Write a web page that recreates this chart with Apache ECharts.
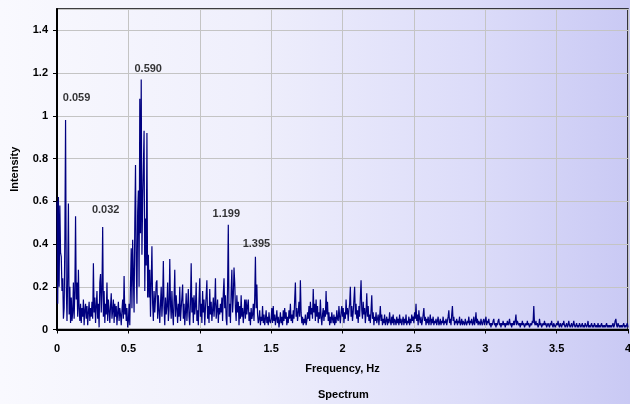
<!DOCTYPE html>
<html>
<head>
<meta charset="utf-8">
<script src="https://cdn.jsdelivr.net/npm/echarts@6/dist/echarts.min.js"></script>
<style>
  html, body { margin: 0; padding: 0; overflow: hidden; }
  #chart {
    width: 630px; height: 404px;
    background: linear-gradient(to right, #f9f9fe 0%, #efeffc 40%, #dcdcf9 75%, #c9c9f4 100%);
  }
</style>
</head>
<body>
<div id="chart"></div>
<script>
// Spectrum amplitudes, one value every 0.005 Hz, split into 0.5 Hz bands
const freqStep = 0.005;

const band0 = [
  0.60,0.12,0.62,0.20,0.58,0.36,0.34,0.18,0.24,0.05,
  0.10,0.42,0.98,0.20,0.04,0.25,0.59,0.07,0.20,0.03,
  0.15,0.04,0.08,0.22,0.05,0.18,0.53,0.14,0.22,0.06,
  0.28,0.10,0.04,0.12,0.03,0.10,0.06,0.14,0.02,0.09,
  0.12,0.05,0.11,0.02,0.08,0.13,0.04,0.10,0.06,0.13,
  0.05,0.31,0.08,0.15,0.03,0.11,0.18,0.05,0.12,0.01,
  0.22,0.26,0.08,0.19,0.48,0.06,0.18,0.03,0.12,0.07,
  0.22,0.04,0.14,0.09,0.03,0.11,0.17,0.05,0.09,0.14,
  0.03,0.12,0.06,0.11,0.02,0.08,0.13,0.04,0.10,0.07,
  0.02,0.09,0.14,0.05,0.25,0.07,0.12,0.04,0.10,0.01
];
const band1 = [
  0.04,0.12,0.02,0.22,0.38,0.10,0.42,0.25,0.08,0.50,
  0.77,0.30,0.12,0.55,0.65,0.20,1.08,0.45,1.17,0.35,
  0.60,0.76,0.93,0.18,0.52,0.30,0.92,0.15,0.35,0.15,
  0.28,0.06,0.22,0.39,0.12,0.04,0.18,0.08,0.14,0.22,
  0.23,0.05,0.16,0.09,0.03,0.12,0.20,0.06,0.14,0.32,
  0.10,0.02,0.15,0.07,0.11,0.22,0.04,0.09,0.33,0.12,
  0.05,0.18,0.08,0.02,0.14,0.28,0.06,0.16,0.10,0.03,
  0.12,0.06,0.20,0.04,0.10,0.15,0.21,0.05,0.12,0.02,
  0.08,0.17,0.04,0.11,0.19,0.06,0.02,0.13,0.31,0.08,
  0.15,0.03,0.16,0.07,0.11,0.22,0.04,0.09,0.02,0.14
];
const band2 = [
  0.24,0.06,0.12,0.03,0.18,0.08,0.14,0.02,0.10,0.16,
  0.23,0.05,0.11,0.03,0.19,0.07,0.13,0.04,0.09,0.15,
  0.06,0.12,0.24,0.05,0.09,0.14,0.03,0.10,0.07,0.12,
  0.08,0.15,0.04,0.17,0.24,0.10,0.16,0.05,0.02,0.20,
  0.49,0.06,0.12,0.03,0.18,0.28,0.08,0.15,0.29,0.22,
  0.10,0.04,0.16,0.08,0.13,0.02,0.11,0.05,0.16,0.06,
  0.10,0.03,0.08,0.14,0.05,0.14,0.07,0.11,0.14,0.04,
  0.08,0.02,0.10,0.05,0.07,0.12,0.04,0.15,0.34,0.10,
  0.21,0.07,0.03,0.05,0.09,0.02,0.06,0.04,0.11,0.03,
  0.07,0.02,0.05,0.09,0.03,0.06,0.02,0.08,0.04,0.03
];
const band3 = [
  0.05,0.10,0.03,0.11,0.04,0.07,0.02,0.05,0.09,0.03,
  0.06,0.01,0.04,0.08,0.03,0.06,0.02,0.09,0.04,0.10,
  0.05,0.08,0.02,0.06,0.03,0.09,0.05,0.12,0.04,0.07,
  0.03,0.09,0.05,0.14,0.22,0.06,0.10,0.04,0.08,0.13,
  0.06,0.23,0.08,0.03,0.06,0.02,0.05,0.03,0.07,0.02,
  0.04,0.08,0.05,0.11,0.04,0.13,0.07,0.10,0.05,0.19,
  0.08,0.12,0.04,0.14,0.06,0.11,0.03,0.08,0.05,0.14,
  0.06,0.02,0.07,0.10,0.04,0.09,0.06,0.18,0.07,0.13,
  0.04,0.08,0.02,0.06,0.03,0.08,0.05,0.03,0.07,0.02,
  0.06,0.03,0.09,0.05,0.04,0.11,0.06,0.03,0.08,0.11
];
const band4 = [
  0.06,0.10,0.03,0.08,0.05,0.14,0.07,0.10,0.04,0.09,
  0.12,0.20,0.06,0.11,0.04,0.08,0.14,0.20,0.07,0.12,
  0.05,0.09,0.03,0.11,0.06,0.15,0.23,0.09,0.05,0.13,
  0.07,0.10,0.03,0.08,0.17,0.06,0.11,0.04,0.07,0.03,
  0.09,0.16,0.05,0.08,0.02,0.06,0.04,0.08,0.03,0.05,
  0.07,0.02,0.06,0.11,0.04,0.07,0.02,0.05,0.03,0.07,
  0.02,0.04,0.06,0.02,0.05,0.03,0.08,0.04,0.02,0.06,
  0.03,0.07,0.02,0.05,0.04,0.02,0.06,0.03,0.05,0.02,
  0.07,0.03,0.05,0.02,0.04,0.06,0.02,0.05,0.03,0.07,
  0.02,0.04,0.03,0.06,0.02,0.05,0.03,0.07,0.04,0.06
];
const band5 = [
  0.03,0.08,0.05,0.12,0.04,0.07,0.02,0.09,0.05,0.03,
  0.06,0.02,0.04,0.07,0.10,0.04,0.06,0.02,0.05,0.03,
  0.06,0.02,0.04,0.07,0.02,0.05,0.03,0.06,0.02,0.04,
  0.03,0.05,0.02,0.04,0.06,0.02,0.03,0.05,0.02,0.04,
  0.03,0.06,0.02,0.04,0.03,0.05,0.02,0.04,0.06,0.09,
  0.03,0.05,0.02,0.07,0.11,0.04,0.06,0.02,0.04,0.03,
  0.05,0.02,0.04,0.03,0.06,0.02,0.03,0.05,0.02,0.04,
  0.03,0.02,0.05,0.03,0.02,0.04,0.03,0.06,0.02,0.04,
  0.03,0.05,0.02,0.03,0.06,0.02,0.04,0.08,0.03,0.05,
  0.02,0.04,0.03,0.02,0.05,0.03,0.02,0.04,0.05,0.02
];
const band6 = [
  0.04,0.06,0.02,0.04,0.03,0.05,0.02,0.03,0.01,0.03,
  0.02,0.04,0.05,0.02,0.03,0.01,0.03,0.02,0.04,0.05,
  0.02,0.03,0.01,0.03,0.02,0.04,0.02,0.03,0.01,0.03,
  0.02,0.04,0.02,0.03,0.05,0.02,0.03,0.01,0.03,0.02,
  0.04,0.02,0.04,0.07,0.02,0.04,0.03,0.02,0.03,0.01,
  0.03,0.02,0.04,0.02,0.03,0.01,0.02,0.03,0.02,0.04,
  0.02,0.03,0.01,0.02,0.03,0.02,0.04,0.03,0.11,0.03,
  0.02,0.04,0.02,0.03,0.01,0.02,0.05,0.02,0.03,0.01,
  0.02,0.03,0.02,0.04,0.02,0.03,0.01,0.02,0.03,0.02,
  0.01,0.03,0.02,0.04,0.02,0.01,0.03,0.02,0.01,0.02
];
const band7 = [
  0.03,0.02,0.04,0.02,0.01,0.03,0.02,0.01,0.03,0.02,
  0.04,0.02,0.01,0.02,0.03,0.01,0.02,0.04,0.02,0.01,
  0.02,0.03,0.01,0.02,0.04,0.02,0.01,0.02,0.03,0.01,
  0.02,0.01,0.03,0.02,0.01,0.02,0.03,0.01,0.02,0.01,
  0.03,0.02,0.01,0.02,0.04,0.01,0.02,0.01,0.02,0.03,
  0.01,0.02,0.01,0.03,0.02,0.01,0.02,0.01,0.03,0.01,
  0.02,0.01,0.02,0.03,0.01,0.02,0.01,0.02,0.01,0.02,
  0.03,0.01,0.02,0.01,0.02,0.01,0.02,0.01,0.02,0.03,
  0.01,0.02,0.04,0.05,0.02,0.01,0.03,0.02,0.01,0.02,
  0.01,0.02,0.01,0.02,0.03,0.01,0.02,0.01,0.02,0.03,
  0.01
];

// Annotated peaks
const peakFreqs  = [0.06, 0.59, 0.32, 1.20, 1.39];
const peakValues = [0.98, 1.17, 0.48, 0.49, 0.34];
const peakLabels = ['0.059', '0.590', '0.032', '1.199', '1.395'];

const xTickLabels = ['0', '0.5', '1', '1.5', '2', '2.5', '3', '3.5', '4'];
const yTickLabels = ['0', '0.2', '0.4', '0.6', '0.8', '1', '1.2', '1.4'];

const amplitudes = [].concat(band0, band1, band2, band3, band4, band5, band6, band7);
const spectrum = amplitudes.map((v, i) => [+(i * freqStep).toFixed(3), v]);

// label placement relative to each peak (pixels)
const peakLabelOffsets = [[11, -12], [7, 0], [3, -6], [-2, 0], [1, -2]];
const peakPoints = peakFreqs.map((f, i) => ({
  value: [f, peakValues[i]],
  label: { formatter: peakLabels[i], offset: peakLabelOffsets[i] }
}));

const FONT = '"Liberation Sans", Arial, sans-serif';
const chart = echarts.init(document.getElementById('chart'), null, {
  renderer: 'canvas', width: 630, height: 404
});

chart.setOption({
  animation: false,
  backgroundColor: 'transparent',
  textStyle: { fontFamily: FONT },
  title: {
    text: 'Spectrum',
    left: 318,
    top: 389,
    padding: 0,
    textStyle: { fontFamily: FONT, fontSize: 11, fontWeight: 'bold', color: '#000' }
  },
  grid: {
    left: 57, right: 2, top: 9, bottom: 74.5,
    outerBoundsMode: 'none',
    containLabel: false,
    show: true,
    borderColor: '#000',
    borderWidth: 1.5,
    backgroundColor: 'transparent'
  },
  xAxis: {
    type: 'value',
    min: 0, max: 4, interval: 0.5,
    name: 'Frequency, Hz',
    nameLocation: 'middle',
    nameGap: 34,
    nameTextStyle: { fontFamily: FONT, fontSize: 11, fontWeight: 'bold', color: '#000' },
    axisLine: { show: true, onZero: false, lineStyle: { color: '#000', width: 2 } },
    axisTick: { show: true, inside: false, length: 4, lineStyle: { color: '#000', width: 1 } },
    axisLabel: {
      margin: 14, fontFamily: FONT, fontSize: 11, fontWeight: 'bold', color: '#000',
      hideOverlap: false,
      formatter: (v) => xTickLabels[Math.round(v / 0.5)] ?? ''
    },
    splitLine: { show: true, lineStyle: { color: '#c4c4c4', width: 1 } }
  },
  yAxis: {
    type: 'value',
    min: 0, max: 1.5, interval: 0.2,
    name: 'Intensity',
    nameLocation: 'middle',
    nameGap: 37,
    nameTextStyle: { fontFamily: FONT, fontSize: 11, fontWeight: 'bold', color: '#000' },
    axisLine: { show: true, lineStyle: { color: '#000', width: 2 } },
    axisTick: { show: true, inside: false, length: 4, lineStyle: { color: '#000', width: 1 } },
    axisLabel: {
      margin: 9, fontFamily: FONT, fontSize: 11, fontWeight: 'bold', color: '#000',
      showMaxLabel: false,
      formatter: (v) => {
        const k = Math.round(v / 0.2);
        return Math.abs(k * 0.2 - v) < 1e-6 ? (yTickLabels[k] ?? '') : '';
      }
    },
    splitLine: { show: true, lineStyle: { color: '#c4c4c4', width: 1 } }
  },
  series: [
    {
      name: 'Spectrum',
      type: 'line',
      data: spectrum,
      showSymbol: false,
      symbol: 'none',
      lineStyle: { color: '#000080', width: 1.2 },
      silent: true
    },
    {
      name: 'Peaks',
      type: 'scatter',
      data: peakPoints,
      symbolSize: 0,
      silent: true,
      label: {
        show: true,
        position: 'top',
        fontFamily: FONT,
        fontSize: 11,
        fontWeight: 'bold',
        color: '#000'
      },
      z: 5
    }
  ]
});
</script>
</body>
</html>
